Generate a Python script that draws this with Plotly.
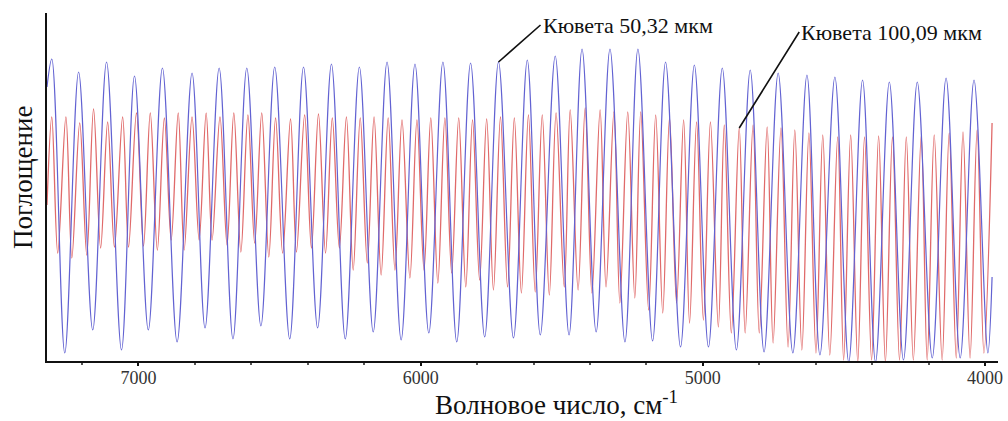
import plotly.graph_objects as go

# Interference fringes of two empty cells: extrema (maxima / minima) of each trace
# Wavenumber, cm^-1 and absorbance (arb. units)

# Cell 50.32 um
thin_nu = [
    7324, 7307, 7261, 7212, 7162, 7113, 7060, 7014, 6965, 6915,
    6863, 6810, 6764, 6714, 6665, 6616, 6566, 6517, 6464, 6415,
    6365, 6316, 6267, 6217, 6168, 6119, 6069, 6020, 5971, 5921,
    5872, 5823, 5773, 5724, 5671, 5622, 5576, 5523, 5474, 5428,
    5378, 5329, 5276, 5230, 5178, 5132, 5079, 5030, 4980, 4931,
    4881, 4832, 4783, 4733, 4681, 4631, 4585, 4532, 4483, 4434,
    4388, 4339, 4289, 4240, 4187, 4138, 4088, 4039, 3990, 3975,
]
thin_abs = [
    2.72, 3.00, 0.06, 2.87, 0.29, 2.97, 0.09, 2.83, 0.29, 2.91,
    0.17, 2.86, 0.31, 2.91, 0.20, 2.91, 0.33, 2.92, 0.20, 2.92,
    0.31, 2.95, 0.20, 2.92, 0.27, 2.97, 0.19, 2.95, 0.26, 2.97,
    0.17, 2.96, 0.22, 2.97, 0.21, 2.99, 0.24, 3.03, 0.24, 3.10,
    0.27, 3.10, 0.17, 3.10, 0.18, 2.97, 0.12, 2.94, 0.12, 2.91,
    0.09, 2.89, 0.07, 2.86, 0.06, 2.84, 0.04, 2.82, -0.03, 2.79,
    -0.03, 2.77, -0.01, 2.77, 0.01, 2.81, 0.01, 2.79, 0.06, 0.82,
]

# Cell 100.09 um
thick_nu = [
    7324, 7307, 7286, 7257, 7236, 7208, 7183, 7159, 7134, 7109,
    7085, 7056, 7035, 7007, 6982, 6958, 6933, 6908, 6884, 6859,
    6838, 6810, 6785, 6760, 6739, 6711, 6686, 6662, 6637, 6612,
    6588, 6563, 6538, 6514, 6489, 6461, 6440, 6411, 6387, 6362,
    6337, 6313, 6288, 6263, 6239, 6214, 6189, 6165, 6140, 6115,
    6091, 6066, 6038, 6013, 5988, 5964, 5939, 5914, 5890, 5865,
    5840, 5816, 5791, 5766, 5742, 5717, 5692, 5668, 5643, 5618,
    5594, 5569, 5544, 5520, 5491, 5470, 5442, 5417, 5393, 5364,
    5343, 5315, 5294, 5266, 5241, 5220, 5192, 5167, 5142, 5118,
    5093, 5068, 5047, 5022, 4998, 4973, 4945, 4924, 4899, 4871,
    4850, 4822, 4800, 4772, 4751, 4723, 4698, 4674, 4649, 4624,
    4599, 4575, 4550, 4522, 4501, 4476, 4451, 4427, 4402, 4377,
    4353, 4328, 4303, 4279, 4254, 4226, 4205, 4180, 4152, 4127,
    4102, 4078, 4053, 4028, 4004, 3975,
]
thick_abs = [
    1.54, 2.42, 1.06, 2.42, 1.01, 2.36, 1.04, 2.50, 1.11, 2.37,
    1.12, 2.42, 1.12, 2.46, 1.13, 2.46, 1.09, 2.41, 1.19, 2.46,
    1.09, 2.42, 1.19, 2.46, 1.19, 2.42, 1.14, 2.46, 1.07, 2.44,
    1.16, 2.46, 1.02, 2.41, 1.06, 2.40, 1.07, 2.44, 1.11, 2.45,
    1.06, 2.41, 1.11, 2.42, 0.89, 2.41, 0.96, 2.42, 0.84, 2.41,
    0.89, 2.39, 0.81, 2.39, 0.89, 2.41, 0.76, 2.41, 0.86, 2.41,
    0.72, 2.39, 0.79, 2.40, 0.69, 2.42, 0.72, 2.41, 0.66, 2.44,
    0.67, 2.44, 0.64, 2.46, 0.72, 2.49, 0.69, 2.51, 0.66, 2.49,
    0.72, 2.47, 0.56, 2.47, 0.61, 2.47, 0.49, 2.44, 0.46, 2.41,
    0.56, 2.39, 0.36, 2.37, 0.39, 2.37, 0.32, 2.34, 0.26, 2.31,
    0.26, 2.34, 0.26, 2.32, 0.16, 2.31, 0.12, 2.29, 0.09, 2.26,
    0.06, 2.24, 0.04, 2.22, -0.01, 2.24, -0.03, 2.22, -0.01, 2.23,
    -0.03, 2.22, -0.01, 2.22, -0.01, 2.23, -0.01, 2.24, -0.01, 2.26,
    0.01, 2.27, 0.01, 2.29, 0.06, 2.36,
]

tick_vals = [7000, 6000, 5000, 4000]
tick_text = ["7000", "6000", "5000", "4000"]

label_thin = "Кювета 50,32 мкм"
label_thick = "Кювета 100,09 мкм"
x_title = "Волновое число, см<sup>-1</sup>"
y_title = "Поглощение"

SERIF = "'Liberation Serif', 'Times New Roman', serif"

fig = go.Figure()
fig.add_trace(go.Scatter(
    x=thick_nu, y=thick_abs, mode="lines",
    line=dict(color="#e06a6a", width=1.3, shape="spline", smoothing=1.0),
    showlegend=False, hoverinfo="skip",
))
fig.add_trace(go.Scatter(
    x=thin_nu, y=thin_abs, mode="lines",
    line=dict(color="#6262d2", width=1.2, shape="spline", smoothing=1.0),
    showlegend=False, hoverinfo="skip",
))

# leader lines from a fringe maximum to its caption
i_thin = thin_nu.index(5724)
i_thick = thick_nu.index(4871)
fig.add_annotation(
    x=thin_nu[i_thin], y=thin_abs[i_thin], xref="x", yref="y",
    text=label_thin, showarrow=True, arrowhead=0, arrowwidth=1.6,
    arrowcolor="#111", ax=42, ay=-37, xanchor="left", yanchor="middle",
    standoff=0, font=dict(family=SERIF, size=22, color="#111"),
)
fig.add_annotation(
    x=thick_nu[i_thick], y=thick_abs[i_thick], xref="x", yref="y",
    text=label_thick, showarrow=True, arrowhead=0, arrowwidth=1.6,
    arrowcolor="#111", ax=60, ay=-96, xanchor="left", yanchor="middle",
    standoff=0, font=dict(family=SERIF, size=22, color="#111"),
)

# axis titles
fig.add_annotation(
    x=0.5356, y=-0.122, xref="paper", yref="paper", text=x_title,
    showarrow=False, xanchor="center", yanchor="middle",
    font=dict(family=SERIF, size=27, color="#111"),
)
fig.add_annotation(
    x=-0.026, y=0.527, xref="paper", yref="paper", text=y_title,
    showarrow=False, textangle=-90, xanchor="center", yanchor="middle",
    font=dict(family=SERIF, size=27, color="#111"),
)

fig.update_xaxes(
    range=[7324, 3954], tickvals=tick_vals, ticktext=tick_text,
    showgrid=False, zeroline=False, showline=True, linecolor="#111",
    linewidth=2.2, ticks="outside", ticklen=3, tickwidth=1.5,
    tickcolor="#111", ticklabelstandoff=-4,
    minor=dict(dtick=200, ticks="outside", ticklen=2, tickcolor="#555"),
    tickfont=dict(family=SERIF, size=18, color="#333"),
)
fig.update_yaxes(
    range=[-0.02, 3.46], showticklabels=False, showgrid=False,
    zeroline=False, showline=True, linecolor="#111", linewidth=2.2,
    ticks="",
)
fig.update_layout(
    width=1008, height=421,
    margin=dict(l=47, r=5, t=13, b=60),
    paper_bgcolor="white", plot_bgcolor="white",
)

fig.write_html("out.html")
